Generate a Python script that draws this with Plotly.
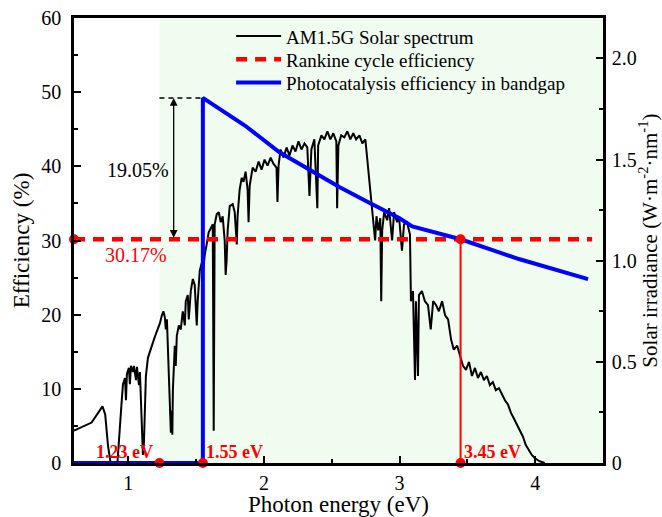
import plotly.graph_objects as go

# ---- data -------------------------------------------------------------
# AM1.5G solar spectrum expressed against photon energy
spectrum_energy = [
    0.60, 0.73, 0.81, 0.83, 0.85, 0.87, 0.92,
    0.93, 0.95, 0.961, 0.976, 0.983, 0.99, 1.005, 1.012, 1.02, 1.035, 1.042,
    1.057, 1.064, 1.079, 1.086, 1.093, 1.10, 1.108, 1.115, 1.12, 1.13,
    1.145, 1.167, 1.189, 1.21, 1.233, 1.248, 1.259, 1.27, 1.277, 1.285, 1.292,
    1.30, 1.307, 1.314, 1.321, 1.325, 1.329, 1.336, 1.343, 1.35, 1.358,
    1.373, 1.387, 1.402, 1.417, 1.424, 1.439, 1.446, 1.461, 1.476, 1.49,
    1.505, 1.512, 1.527, 1.542, 1.549, 1.564, 1.578, 1.593, 1.608, 1.623,
    1.63, 1.637, 1.652, 1.667, 1.682, 1.696, 1.711, 1.718, 1.725, 1.733,
    1.748, 1.77, 1.785, 1.80, 1.806, 1.821, 1.836, 1.85, 1.865, 1.88, 1.887,
    1.895, 1.917, 1.939, 1.961, 1.983, 2.005, 2.027, 2.05, 2.07, 2.093, 2.10,
    2.108, 2.123, 2.145, 2.167, 2.189, 2.211, 2.233, 2.255, 2.277, 2.299,
    2.32, 2.336, 2.35, 2.372, 2.394, 2.40, 2.424, 2.446, 2.468, 2.49, 2.512,
    2.534, 2.54, 2.549, 2.57, 2.593, 2.615, 2.637, 2.659, 2.68, 2.704, 2.726,
    2.748, 2.762, 2.777, 2.79, 2.806, 2.82, 2.83, 2.843, 2.858, 2.865, 2.872,
    2.887, 2.909, 2.923, 2.945, 2.96, 2.982, 2.996, 3.018, 3.033, 3.055,
    3.077, 3.084, 3.099, 3.114, 3.121, 3.136, 3.143, 3.165, 3.187, 3.21,
    3.23, 3.248, 3.27, 3.29, 3.314, 3.336, 3.358, 3.38, 3.40, 3.425, 3.446,
    3.468, 3.49, 3.512, 3.534, 3.556, 3.578, 3.60, 3.622, 3.644, 3.666,
    3.688, 3.71, 3.733, 3.755, 3.777, 3.799, 3.82, 3.843, 3.865, 3.887,
    3.91, 3.93, 3.953, 3.975, 3.997, 4.027, 4.07,
]
spectrum_irradiance = [
    0.16, 0.20, 0.28, 0.24, 0.09, 0.0, 0.0,
    0.11, 0.29, 0.39, 0.42, 0.31, 0.44, 0.47, 0.39, 0.48, 0.45, 0.48,
    0.41, 0.475, 0.385, 0.45, 0.31, 0.21, 0.04, 0.09, 0.26, 0.43,
    0.52, 0.57, 0.61, 0.65, 0.69, 0.73, 0.75, 0.72, 0.66, 0.71, 0.58,
    0.43, 0.21, 0.15, 0.26, 0.14, 0.36, 0.51, 0.58, 0.48, 0.63,
    0.68, 0.66, 0.75, 0.68, 0.80, 0.83, 0.71, 0.85, 0.91, 0.88,
    0.68, 0.80, 0.95, 0.99, 0.93, 1.03, 1.08, 1.14, 1.16, 1.18,
    0.16, 1.18, 1.23, 1.24, 1.19, 1.22, 1.10, 0.93, 1.00, 1.15,
    1.27, 1.28, 1.24, 1.08, 1.22, 1.35, 1.41, 1.39, 1.44, 1.35, 1.19,
    1.37, 1.46, 1.44, 1.49, 1.45, 1.50, 1.47, 1.51, 1.48, 1.46, 1.29,
    1.47, 1.55, 1.51, 1.56, 1.52, 1.57, 1.54, 1.59, 1.55, 1.58,
    1.56, 1.32, 1.55, 1.60, 1.26, 1.57, 1.62, 1.60, 1.64, 1.60, 1.63,
    1.59, 1.26, 1.57, 1.62, 1.61, 1.64, 1.60, 1.63, 1.60, 1.62, 1.58,
    1.60, 1.50, 1.42, 1.30, 1.18, 1.10, 1.22, 1.15, 1.21, 0.80, 1.15,
    1.24, 1.20, 1.26, 1.10, 1.24, 1.19, 1.22, 1.05, 1.18, 1.19,
    1.13, 0.80, 0.85, 0.41, 0.80, 0.43, 0.83, 0.85, 0.80, 0.78,
    0.66, 0.80, 0.78, 0.75, 0.80, 0.73, 0.71, 0.61, 0.56, 0.58, 0.53,
    0.48, 0.46, 0.50, 0.43, 0.47, 0.42, 0.45, 0.41, 0.43, 0.385,
    0.40, 0.36, 0.37, 0.34, 0.31, 0.29, 0.25, 0.22, 0.19, 0.16,
    0.13, 0.09, 0.065, 0.04, 0.025, 0.01, 0.0,
]

# Photocatalysis efficiency inside the band gap (step at the band gap)
photocat_energy = [0.60, 1.55, 1.55, 1.86, 2.115, 2.34, 2.556, 2.777, 3.0,
                   3.094, 3.45, 3.88, 4.39]
photocat_eff = [0.0, 0.0, 49.22, 45.5, 41.9, 39.5, 37.2, 35.1, 33.0,
                31.9, 30.17, 27.5, 24.8]

# Rankine cycle efficiency (constant)
rankine_energy = [0.60, 4.42]
rankine_eff = [30.17, 30.17]

# Characteristic energies marked on the energy axis
key_energy = [1.23, 1.55, 3.45]
key_labels = ["1.23 eV", "1.55 eV", "3.45 eV"]

# Efficiency gap between photocatalysis peak and Rankine cycle
gap_value = 19.05
gap_label = "19.05%"
rankine_label = "30.17%"

# Tick labels
eff_ticks = [0, 10, 20, 30, 40, 50, 60]
irr_ticks = [0, 0.5, 1.0, 1.5, 2.0]
irr_ticktext = ["0", "0.5", "1.0", "1.5", "2.0"]
energy_ticks = [1, 2, 3, 4]

SERIF = "Liberation Serif, Times New Roman, serif"
RED = "#ff0000"
BLUE = "#0000ff"

fig = go.Figure()

# solar spectrum on the irradiance axis (drawn first, underneath)
fig.add_trace(go.Scatter(
    x=spectrum_energy, y=spectrum_irradiance, yaxis="y",
    mode="lines", line=dict(color="black", width=2),
    name="AM1.5G Solar spectrum", legend="legend",
))

# Rankine efficiency line
fig.add_trace(go.Scatter(
    x=rankine_energy, y=rankine_eff, yaxis="y2",
    mode="lines", line=dict(color=RED, width=4.5, dash="11px,8px"),
    name="Rankine cycle efficiency", legend="legend2",
))

# photocatalysis efficiency
fig.add_trace(go.Scatter(
    x=photocat_energy, y=photocat_eff, yaxis="y2",
    mode="lines", line=dict(color=BLUE, width=4),
    name="Photocatalysis efficiency in bandgap", legend="legend3",
))

# vertical red line at the crossing energy
cross_e = key_energy[2]
cross_eff = rankine_eff[0]
fig.add_trace(go.Scatter(
    x=[cross_e, cross_e], y=[0, cross_eff], yaxis="y2",
    mode="lines", line=dict(color=RED, width=2), showlegend=False,
))

# black dashed guide at the photocatalysis peak
peak_eff = cross_eff + gap_value
fig.add_trace(go.Scatter(
    x=[key_energy[0], key_energy[1]], y=[peak_eff, peak_eff], yaxis="y2",
    mode="lines", line=dict(color="black", width=1.5, dash="5px,4px"),
    showlegend=False,
))

# red markers
fig.add_trace(go.Scatter(
    x=key_energy + [cross_e, rankine_energy[0]],
    y=[0, 0, 0, cross_eff, cross_eff], yaxis="y2",
    mode="markers", marker=dict(color=RED, size=10),
    cliponaxis=False, showlegend=False,
))

annotations = []
for i, (e, lab) in enumerate(zip(key_energy, key_labels)):
    left_side = i == 0  # first label sits left of its marker to stay clear
    annotations.append(dict(
        x=e, y=0, xref="x", yref="y2", text=lab, showarrow=False,
        xanchor="right" if left_side else "left", yanchor="bottom",
        xshift=-4 if left_side else 1, yshift=-1,
        font=dict(family=SERIF, size=18, color=RED, weight="bold"),
    ))

# double-headed arrow marking the gap
annotations.append(dict(
    x=1.335, y=peak_eff, ax=1.335, ay=cross_eff,
    xref="x", yref="y2", axref="x", ayref="y2",
    text="", showarrow=True, arrowhead=2, arrowside="end+start",
    arrowsize=1.2, arrowwidth=1.3, arrowcolor="black",
))
annotations.append(dict(
    x=1.07, y=39.5, xref="x", yref="y2", text=gap_label, showarrow=False,
    font=dict(family=SERIF, size=20, color="black"),
))
annotations.append(dict(
    x=1.06, y=28.0, xref="x", yref="y2", text=rankine_label, showarrow=False,
    font=dict(family=SERIF, size=20, color=RED),
))

legend_style = dict(
    x=0.297, xanchor="left", yanchor="middle",
    bgcolor="rgba(0,0,0,0)", borderwidth=0,
    font=dict(family=SERIF, size=19, color="black"),
    itemwidth=45,
)

axis_common = dict(
    ticks="inside", ticklen=7, tickwidth=2, tickcolor="black",
    showline=True, linewidth=2.5, linecolor="black",
    showgrid=False, zeroline=False, automargin=False,
)

fig.update_layout(
    width=662, height=517,
    margin=dict(l=74, r=59, t=18, b=54),
    paper_bgcolor="white", plot_bgcolor="white",
    font=dict(family=SERIF, size=20, color="black"),
    showlegend=True,
    legend=dict(y=0.959, **legend_style),
    legend2=dict(y=0.907, **legend_style),
    legend3=dict(y=0.855, **legend_style),
    shapes=[dict(
        type="rect", xref="x", yref="paper",
        x0=key_energy[0], x1=4.5, y0=0, y1=1,
        fillcolor="rgb(240,252,240)", line=dict(width=0), layer="below",
    )],
    annotations=annotations,
    xaxis=dict(
        range=[0.6, 4.5], tickvals=energy_ticks, mirror=True,
        minor=dict(dtick=0.5, tick0=0, ticks="inside", ticklen=4,
                   tickwidth=2, tickcolor="black"),
        title=dict(text="Photon energy (eV)", font=dict(size=23), standoff=2),
        tickfont=dict(size=20), ticklabelstandoff=0,
        **axis_common,
    ),
    yaxis=dict(
        side="right", range=[0, 2.2],
        tickvals=irr_ticks, ticktext=irr_ticktext,
        minor=dict(dtick=0.25, tick0=0, ticks="inside", ticklen=4,
                   tickwidth=2, tickcolor="black"),
        title=dict(text="Solar irradiance (W·m<sup>-2</sup>·nm<sup>-1</sup>)",
                   font=dict(size=21), standoff=12),
        tickfont=dict(size=20), ticklabelstandoff=2,
        **axis_common,
    ),
    yaxis2=dict(
        side="left", overlaying="y", range=[0, 60],
        tickvals=eff_ticks,
        minor=dict(dtick=5, tick0=0, ticks="inside", ticklen=4,
                   tickwidth=2, tickcolor="black"),
        title=dict(text="Efficiency (%)", font=dict(size=23), standoff=6),
        tickfont=dict(size=20), ticklabelstandoff=6,
        **axis_common,
    ),
)

fig.write_html("out.html")
